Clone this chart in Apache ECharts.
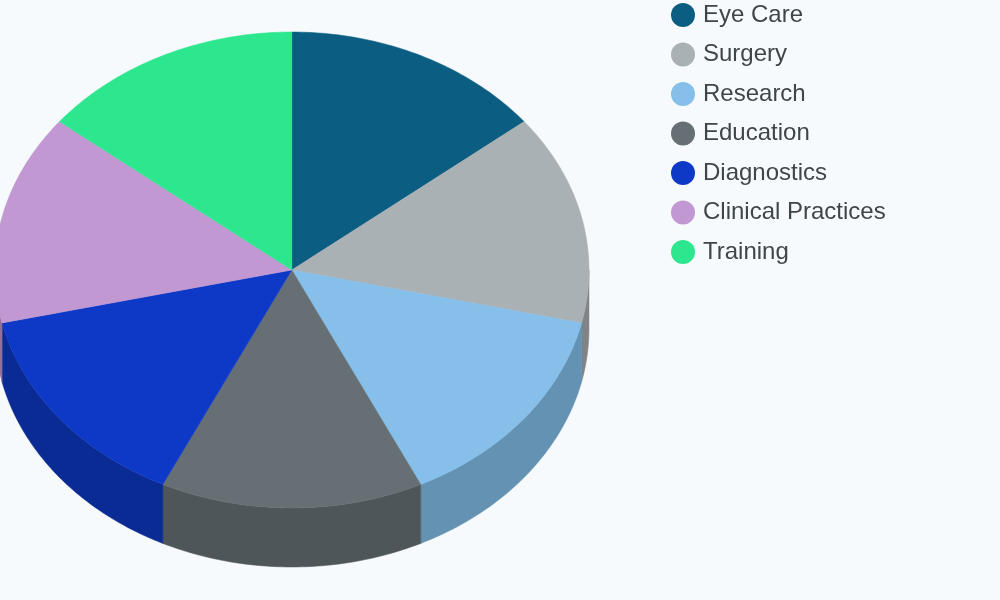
<!DOCTYPE html>
<html>
<head>
<meta charset="utf-8">
<style>html,body{margin:0;padding:0;background:#f7fafc}#chart{width:1000px;height:600px}</style>
<script src="https://cdn.jsdelivr.net/npm/echarts@6/dist/echarts.min.js"></script>
</head>
<body>
<div id="chart"></div>
<script>
// Seven equal-share departments drawn as a tilted pie with a visible rim.
const categories = ['Eye Care', 'Surgery', 'Research', 'Education', 'Diagnostics', 'Clinical Practices', 'Training'];
const values = [15, 15, 15, 15, 15, 15, 15];
const topColors = ['#0b5e82', '#aab1b4', '#85bfea', '#656f74', '#0e39c6', '#c198d2', '#2de78e'];
const rimColors = ['#084660', '#7f8487', '#6392b2', '#4f5659', '#0a2a94', '#91729e', '#22ad6a'];

const cx = 291.8, cy = 270, rx = 297.2, ry = 238, depth = 59;
const total = values.reduce((a, b) => a + b, 0);

// Angle measured clockwise from twelve o'clock, mapped onto the tilted ellipse.
function rimPoint(a, dy) {
  return [cx + rx * Math.sin(a), cy - ry * Math.cos(a) + dy];
}
function arc(from, to, dy) {
  const pts = [];
  const n = Math.max(2, Math.ceil((to - from) / (Math.PI / 180)));
  for (let i = 0; i <= n; i++) pts.push(rimPoint(from + (to - from) * i / n, dy));
  return pts;
}

function sliceRenderer(index) {
  const before = values.slice(0, index).reduce((a, b) => a + b, 0);
  const start = before / total * Math.PI * 2;
  const end = (before + values[index]) / total * Math.PI * 2;
  return function () {
    const children = [];
    // Only the part of the rim facing the viewer is visible.
    const rimFrom = Math.max(start, Math.PI / 2);
    const rimTo = Math.min(end, Math.PI * 1.5);
    if (rimTo > rimFrom) {
      const upper = arc(rimFrom, rimTo, 0);
      const lower = arc(rimFrom, rimTo, depth).reverse();
      children.push({
        type: 'polygon',
        shape: { points: upper.concat(lower) },
        style: { fill: rimColors[index], stroke: rimColors[index], lineWidth: 0.5 }
      });
    }
    children.push({
      type: 'polygon',
      shape: { points: [[cx, cy]].concat(arc(start, end, 0)) },
      style: { fill: topColors[index], stroke: topColors[index], lineWidth: 0.5 },
      z2: 10
    });
    return { type: 'group', children };
  };
}

const chart = echarts.init(document.getElementById('chart'), null, { renderer: 'canvas' });
chart.setOption({
  backgroundColor: '#f7fafc',
  animation: false,
  legend: {
    data: categories,
    orient: 'vertical',
    left: 671,
    top: 3,
    padding: 0,
    icon: 'circle',
    itemWidth: 24,
    itemHeight: 24,
    itemGap: 15.5,
    textStyle: { fontFamily: 'Liberation Sans', fontSize: 24, color: '#3f464a', padding: [2, 0, 0, 3] }
  },
  series: categories.map((name, i) => ({
    type: 'custom',
    name,
    coordinateSystem: 'none',
    silent: true,
    clip: false,
    itemStyle: { color: topColors[i] },
    data: [values[i]],
    renderItem: sliceRenderer(i)
  }))
});
</script>
</body>
</html>
